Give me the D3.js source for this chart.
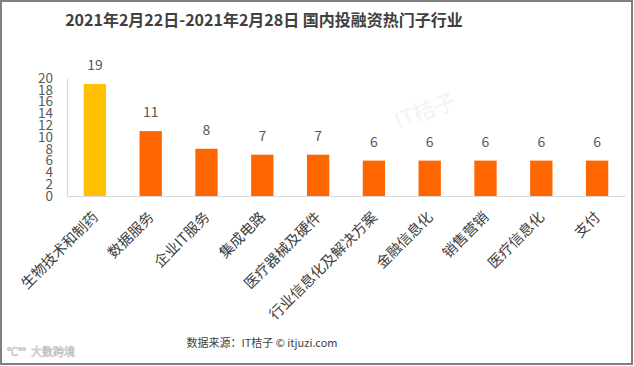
<!DOCTYPE html>
<html><head><meta charset="utf-8">
<script src="https://cdn.jsdelivr.net/npm/d3@7/dist/d3.min.js"></script>
<style>body{margin:0;background:#fff}svg{display:block}text{font-family:"Noto Sans CJK SC","Microsoft YaHei",sans-serif}</style>
</head><body>
<svg id="c" width="634" height="366"></svg>
<script>
const categories = ["生物技术和制药","数据服务","企业IT服务","集成电路","医疗器械及硬件","行业信息化及解决方案","金融信息化","销售营销","医疗信息化","支付"];
const values = [19,11,8,7,7,6,6,6,6,6];
const yTicks = [0,2,4,6,8,10,12,14,16,18,20];
const title = "2021年2月22日-2021年2月28日 国内投融资热门子行业";
const source = "数据来源：IT桔子  © itjuzi.com";

const svg = d3.select("#c");
svg.append("rect").attr("x",1).attr("y",1).attr("width",631).attr("height",363)
  .attr("fill","#fff").attr("stroke","#7f7f7f").attr("stroke-width",2);

const x = d3.scaleBand().domain(categories).range([67,625]).paddingInner(0.6).paddingOuter(0.3);
const y = d3.scaleLinear().domain([0,20]).range([196,78]);

// watermark
svg.append("text").attr("x",428).attr("y",118).attr("text-anchor","middle")
  .attr("font-size",22).attr("fill","#f3f3f3").attr("transform","rotate(-20,428,118)").text("IT桔子");

svg.append("text").attr("x",264).attr("y",26).attr("text-anchor","middle")
  .attr("font-size",16).attr("font-weight","bold").attr("fill","#404040").text(title);

// y axis
const ya = svg.append("g").attr("transform","translate(67,0)")
  .call(d3.axisLeft(y).tickValues(yTicks).tickSize(0).tickPadding(14));
ya.select(".domain").attr("stroke","#d9d9d9");
ya.selectAll("text").attr("font-size",13.5).attr("fill","#595959").style("font-family","'Noto Sans CJK SC',sans-serif");

// bars
svg.selectAll("rect.bar").data(values).join("rect").attr("class","bar")
  .attr("x",(d,i)=>x(categories[i])).attr("width",x.bandwidth())
  .attr("y",d=>y(d)).attr("height",d=>y(0)-y(d))
  .attr("fill",(d,i)=>i===0?"#FFC000":"#FF6600");

// baseline
const xa = svg.append("g").attr("transform","translate(0,196)")
  .call(d3.axisBottom(x).tickSize(0).tickFormat(""));
xa.select(".domain").attr("stroke","#d9d9d9");

// value labels
svg.selectAll("text.val").data(values).join("text").attr("class","val")
  .attr("x",(d,i)=>x(categories[i])+x.bandwidth()/2).attr("y",d=>y(d)-14)
  .attr("text-anchor","middle").attr("font-size",14).attr("fill","#595959").text(d=>d);

// category labels
svg.selectAll("text.cat").data(categories).join("text").attr("class","cat")
  .attr("transform",d=>`translate(${x(d)+x.bandwidth()/2+4},${218}) rotate(-45)`)
  .attr("text-anchor","end").attr("font-size",14.5).attr("fill","#404040").text(d=>d);

svg.append("text").attr("x",262).attr("y",347).attr("text-anchor","middle")
  .attr("font-size",11).attr("fill","#404040").text(source);

svg.append("text").attr("x",31).attr("y",356).attr("font-size",11)
  .attr("fill","#fff").attr("stroke","#c4c4c4").attr("stroke-width",0.7).text("大数跨境");
svg.append("text").attr("x",7).attr("y",356).attr("font-size",11)
  .attr("fill","#fff").attr("stroke","#c4c4c4").attr("stroke-width",0.7).text("℃°°");
</script>
</body></html>
